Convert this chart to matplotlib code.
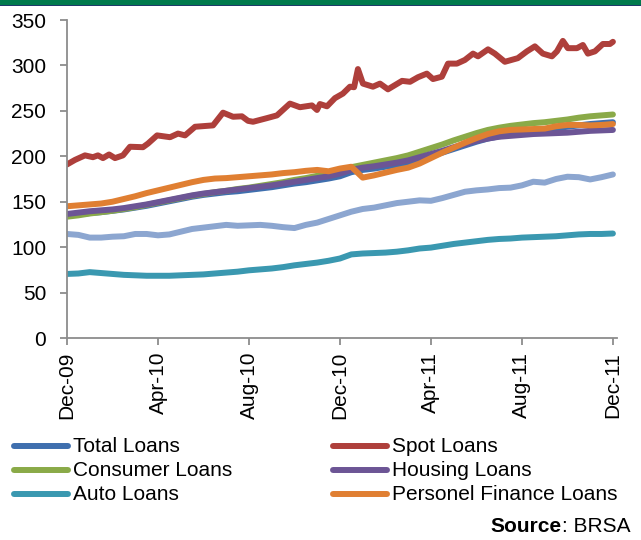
import matplotlib
matplotlib.use("Agg")
import matplotlib.pyplot as plt
from matplotlib.lines import Line2D
from matplotlib.patches import Rectangle

plt.rcParams['font.family'] = ['Liberation Sans', 'DejaVu Sans']

# ---- data (months since Dec-09, half-month steps) ----
months = [k * 0.5 for k in range(49)]

total_loans = [134.5, 136, 137.5, 138.5, 140, 141.5, 143.5, 145.5, 148, 150.5,
               153, 155.5, 157.5, 159, 160.5, 161.5, 163, 164.5, 166, 168,
               170, 171.5, 173.5, 175.5, 178, 182.5, 185, 186.5, 188.5, 190.5,
               193, 196.5, 200, 204, 208, 212, 216, 219.5, 222, 224,
               226, 227.5, 229, 231, 232.5, 234, 235.5, 236.5, 237.5]

consumer_loans = [133.5, 135, 137, 138.5, 140, 142, 144, 146.5, 149, 151.5,
                  154, 156.5, 158.5, 160.5, 162, 164, 165.5, 167.5, 169.5, 171.5,
                  174, 176, 178.5, 180.5, 183.5, 188, 190.5, 193, 195.5, 198,
                  201, 205, 209, 213, 217.5, 221.5, 225.5, 229, 231.5, 233.5,
                  235, 236.5, 237.5, 239, 240.5, 242.5, 244, 245, 246]

housing_loans = [136.5, 138, 139.5, 140.5, 141.5, 143, 145, 147, 149.5, 152,
                 154.5, 157, 159, 160.5, 162, 163.5, 165, 166.5, 168, 170,
                 172, 174, 176, 178, 181, 185, 187.5, 189, 191, 193,
                 195.5, 199, 202.5, 206, 210, 213.5, 217, 219.5, 221.5, 222.5,
                 223.5, 224.5, 225, 225.5, 226, 227, 228, 228.5, 229]

auto_loans = [70.5, 71, 72.5, 71.5, 70.5, 69.5, 69, 68.5, 68.5, 68.5,
              69, 69.5, 70, 71, 72, 73, 74.5, 75.5, 76.5, 78,
              80, 81.5, 83, 85, 87.5, 92, 93, 93.5, 94, 95,
              96.5, 98.5, 99.5, 101.5, 103.5, 105, 106.5, 108, 109, 109.5,
              110.5, 111, 111.5, 112, 113, 114, 114.5, 114.5, 115]

personel_finance_loans = [145, 146, 147, 148, 150, 153, 156, 159.5, 162.5, 165.5,
                          168.5, 171.5, 174, 175.5, 176, 177, 178, 179, 180, 181.5,
                          182.5, 184, 185, 183.5, 186.5, 188.5, 176.5, 179, 182, 185,
                          187.5, 192, 198, 204, 209.5, 215, 220, 224.5, 227.5, 229,
                          229.5, 230, 230.5, 233, 234.5, 234.5, 234, 234.5, 235.5]

other_loans = [114.5, 113.5, 110.5, 110.5, 111.5, 112, 114.5, 114.5, 113, 114,
               117, 120, 121.5, 123, 124.5, 123.5, 124, 124.5, 123.5, 122,
               121, 124.5, 127, 131, 135, 139, 142, 143.5, 146, 148.5,
               150, 151.5, 151, 154, 157.5, 161, 162.5, 163.5, 165, 165.5,
               168, 172, 171, 175, 177.5, 177, 174.5, 177, 180]

spot_months = [0, 0.35, 0.79, 1.14, 1.36, 1.58, 1.85, 2.11, 2.46, 2.77,
               3.34, 3.56, 3.96, 4.53, 4.88, 5.19, 5.63, 6.42, 6.86, 7.30,
               7.69, 7.96, 8.18, 8.79, 9.23, 9.80, 10.24, 10.77, 10.99, 11.12,
               11.43, 11.78, 12.13, 12.44, 12.62, 12.79, 13.01, 13.45, 13.76, 14.11,
               14.73, 15.08, 15.43, 15.82, 16.09, 16.48, 16.75, 17.14, 17.49, 17.85,
               18.07, 18.51, 18.81, 19.25, 19.82, 20.22, 20.57, 20.92, 21.32, 21.54,
               21.80, 22.02, 22.42, 22.68, 22.90, 23.21, 23.56, 23.87, 24.0]
spot_loans = [191, 196, 201, 199, 201, 198, 202, 198, 201, 210.5,
              210, 214, 223, 221, 225, 223, 232.5, 234, 248, 243.5,
              244, 239, 238, 242, 245, 258, 254, 256, 251, 257.5,
              255, 264, 269, 276.6, 276, 296, 280, 276.6, 280, 273.7,
              283, 282, 287, 291, 285, 287.6, 302, 302, 306, 313,
              310, 317.7, 313, 304, 308, 315.5, 321, 313, 310, 315.5,
              327, 319, 319, 322.5, 313, 315.5, 323.6, 323.6, 326]

tick_pos = [0, 4, 8, 12, 16, 20, 24]
tick_labels = ["Dec-09", "Apr-10", "Aug-10", "Dec-10", "Apr-11", "Aug-11", "Dec-11"]
y_ticks = [0, 50, 100, 150, 200, 250, 300, 350]

legend_names = ["Total Loans", "Spot Loans", "Consumer Loans", "Housing Loans",
                "Auto Loans", "Personel Finance Loans"]

c_total = "#3F6FAE"
c_spot = "#AE3F3B"
c_cons = "#8AAA48"
c_house = "#6C5595"
c_auto = "#3A98B0"
c_pers = "#E07F32"
c_other = "#8CA6D0"

fs = 15

fig = plt.figure(figsize=(6.41, 5.40), dpi=100)
fig.patch.set_facecolor("white")

# header band
fig.patches.append(Rectangle((0, 1 - 5 / 540), 1, 5 / 540, transform=fig.transFigure,
                             facecolor="#007A4C", edgecolor="none"))
fig.patches.append(Rectangle((0, 1 - 6 / 540), 1, 1.2 / 540, transform=fig.transFigure,
                             facecolor="#1F3A6A", edgecolor="none"))

ax = fig.add_axes([67 / 641, 1 - 338 / 540, 550 / 641, 318 / 540])
lw = 4.3
kw = dict(lw=lw, solid_capstyle="round", solid_joinstyle="round")
ax.plot(months, total_loans, color=c_total, **kw)
ax.plot(spot_months, spot_loans, color=c_spot, **kw)
ax.plot(months, consumer_loans, color=c_cons, **kw)
ax.plot(months, housing_loans, color=c_house, **kw)
ax.plot(months, auto_loans, color=c_auto, **kw)
ax.plot(months, personel_finance_loans, color=c_pers, **kw)
ax.plot(months, other_loans, color=c_other, **kw)

ax.set_xlim(0, 24.18)
ax.set_ylim(0, 350)
ax.set_yticks(y_ticks)
ax.set_xticks(tick_pos)
ax.set_xticklabels(tick_labels, rotation=90)
for s in ["top", "right"]:
    ax.spines[s].set_visible(False)
for s in ["left", "bottom"]:
    ax.spines[s].set_color("#8C8C8C")
    ax.spines[s].set_linewidth(1.3)
ax.tick_params(axis="both", colors="#8C8C8C", labelcolor="black", labelsize=fs,
               width=1.3, length=5)
ax.tick_params(axis="y", pad=10)
ax.tick_params(axis="x", pad=5)
ax.patch.set_alpha(0)

# legend (manual, two columns)
leg_colors = [c_total, c_spot, c_cons, c_house, c_auto, c_pers]
col_x = [(14, 68, 73), (333, 387, 392)]
row_y = [446, 470, 494]
for i, (name, col) in enumerate(zip(legend_names, leg_colors)):
    cx = col_x[i % 2]
    ry = row_y[i // 2]
    yf = 1 - ry / 540
    fig.lines.append(Line2D([cx[0] / 641, cx[1] / 641], [yf, yf], transform=fig.transFigure,
                            color=col, lw=lw, solid_capstyle="round"))
    fig.text(cx[2] / 641, yf, name, fontsize=fs, va="center", ha="left")

t1 = fig.text(1 - 11 / 641, 1 - 527 / 540, ": BRSA", fontsize=fs, va="center", ha="right")
fig.canvas.draw()
bb = t1.get_window_extent()
fig.text(bb.x0 / fig.bbox.width, 1 - 527 / 540, "Source", fontsize=fs, fontweight="bold",
         va="center", ha="right")

fig.savefig("out.png", dpi=100)
